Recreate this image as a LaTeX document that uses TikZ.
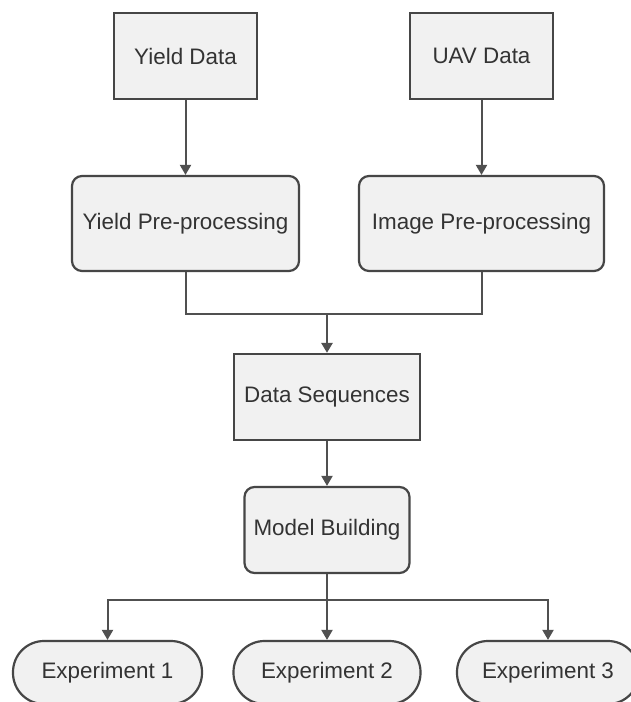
\documentclass[tikz,border=0pt]{standalone}
\usepackage{fontspec}
\setmainfont{Liberation Sans}
\usetikzlibrary{arrows.meta}
\definecolor{boxline}{HTML}{464646}
\definecolor{boxfill}{HTML}{F1F1F1}
\definecolor{textcol}{HTML}{333333}
\definecolor{linecol}{HTML}{505050}
\begin{document}
\begin{tikzpicture}[x=1pt,y=-1pt,
  box/.style={draw=boxline, fill=boxfill, line width=2.2pt, inner sep=0pt,
    font=\fontsize{22.4}{26}\selectfont, text=textcol},
  rbox/.style={box, rounded corners=10pt},
  pill/.style={box, rounded corners=31pt},
  conn/.style={draw=linecol, line width=2pt},
  arr/.style={conn, -{Triangle[length=10pt,width=11pt]}}]
\useasboundingbox (0,0) rectangle (630,702);
\fill[white] (0,0) rectangle (630,702);

\node[box, minimum width=143pt, minimum height=86pt] (yd) at (185.5,56) {Yield Data};
\node[box, minimum width=143pt, minimum height=86pt] (ud) at (481.5,56) {UAV Data};
\node[rbox, minimum width=227pt, minimum height=95pt] (yp) at (185.5,223.5) {Yield Pre-processing};
\node[rbox, minimum width=245pt, minimum height=95pt] (ip) at (481.5,223.5) {Image Pre-processing};
\node[box, minimum width=186pt, minimum height=86pt] (ds) at (327,397) {Data Sequences};
\node[rbox, minimum width=165pt, minimum height=86pt] (mb) at (327,530) {Model Building};
\node[pill, minimum width=189pt, minimum height=63pt] (e1) at (107.5,672.5) {Experiment 1};
\node[pill, minimum width=187pt, minimum height=63pt] (e2) at (327,672.5) {Experiment 2};
\node[pill, minimum width=182pt, minimum height=63pt] (e3) at (548,672.5) {Experiment 3};

\coordinate (m) at (327,314);
\coordinate (s) at (327,600);

\draw[arr] (yd) -- (yp);
\draw[arr] (ud) -- (ip);
\draw[conn] (yp.south) |- (m) -| (ip.south);
\draw[arr, line width=2.6pt] (m) -- (ds);
\draw[arr] (ds) -- (mb);
\draw[conn] (mb.south) -- (s);
\draw[arr] (s) -| (e1.north);
\draw[arr] (s) -- (e2.north);
\draw[arr] (s) -| (e3.north);
\end{tikzpicture}
\end{document}
